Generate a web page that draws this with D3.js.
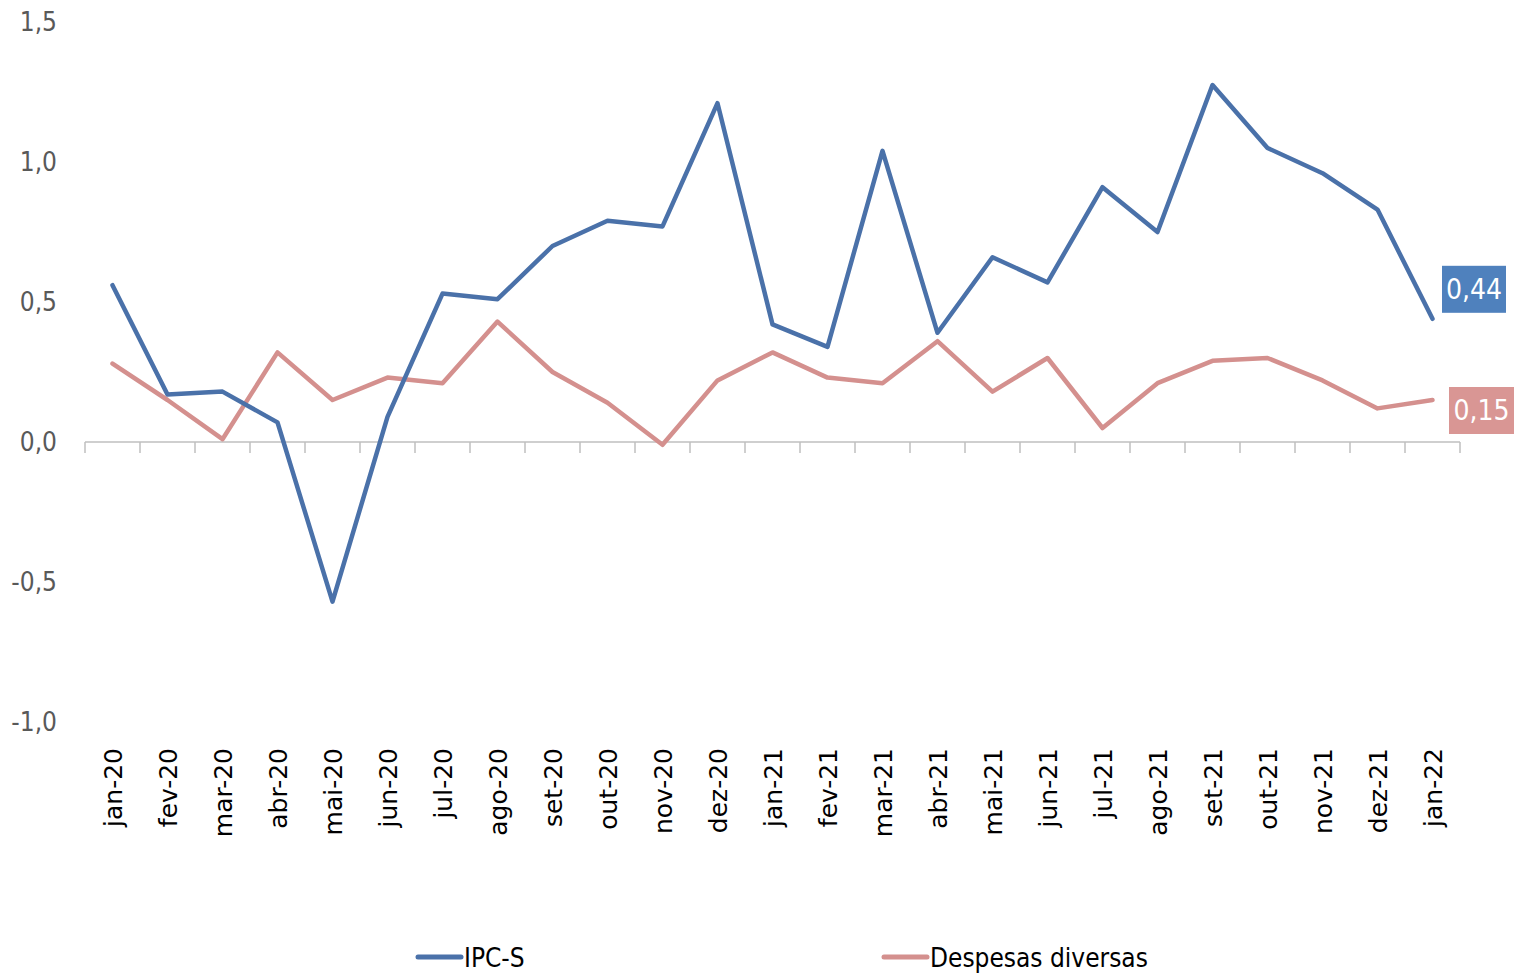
<!DOCTYPE html>
<html lang="pt">
<head>
    <meta charset="utf-8"/>
    <title>IPC-S x Despesas diversas</title>
    <script src="https://d3js.org/d3.v7.min.js"></script>
    <style>
        body { margin: 0; background: #fff; }
        .ylab, .legend text { font-family: "Liberation Sans Narrow", "DejaVu Sans Condensed", sans-serif; fill: #595959; }
        .xlab { font-family: "DejaVu Sans", sans-serif; fill: #000; }
    </style>
</head>
<body>
<svg width="1516" height="976"></svg>
<script>
    // dados
    const meses = ["jan-20", "fev-20", "mar-20", "abr-20", "mai-20", "jun-20", "jul-20", "ago-20", "set-20",
        "out-20", "nov-20", "dez-20", "jan-21", "fev-21", "mar-21", "abr-21", "mai-21", "jun-21", "jul-21",
        "ago-21", "set-21", "out-21", "nov-21", "dez-21", "jan-22"];
    const ipcs = [0.56, 0.17, 0.18, 0.07, -0.57, 0.09, 0.53, 0.51, 0.70, 0.79, 0.77, 1.21, 0.42, 0.34,
        1.04, 0.39, 0.66, 0.57, 0.91, 0.75, 1.275, 1.05, 0.96, 0.83, 0.44];
    const despesas = [0.28, 0.15, 0.01, 0.32, 0.15, 0.23, 0.21, 0.43, 0.25, 0.14, -0.01, 0.22, 0.32, 0.23,
        0.21, 0.36, 0.18, 0.30, 0.05, 0.21, 0.29, 0.30, 0.22, 0.12, 0.15];
    const yTicks = [-1.0, -0.5, 0.0, 0.5, 1.0, 1.5];

    const azul = "#4a71a9", rosa = "#d4908e";
    const azulBox = "#4f81bd", rosaBox = "#d99694";
    const fonteEstreita = "'Liberation Sans Narrow', 'DejaVu Sans Condensed', sans-serif";

    const svg = d3.select("svg");
    const fmt = v => d3.format(".1f")(v).replace(".", ",").replace("−", "-");

    const x = d3.scaleBand().domain(meses).range([85, 1460]);
    const y = d3.scaleLinear().domain([-1, 1.5]).range([722, 22]);
    const cx = d => x(d) + x.bandwidth() / 2;

    // rótulos do eixo y (sem linha)
    svg.append("g").selectAll("text").data(yTicks).join("text")
        .attr("class", "ylab")
        .attr("x", 57).attr("y", d => y(d)).attr("dy", "0.35em")
        .attr("text-anchor", "end").attr("font-size", 26)
        .text(fmt);

    // eixo x no zero, com marcas entre as categorias
    const xAxis = svg.append("g").attr("transform", `translate(0,${y(0)})`);
    xAxis.append("line").attr("x1", 85).attr("x2", 1460).attr("stroke", "#bfbfbf").attr("stroke-width", 1.5);
    xAxis.selectAll("line.tk").data(d3.range(meses.length + 1)).join("line")
        .attr("class", "tk")
        .attr("x1", i => 85 + i * x.bandwidth()).attr("x2", i => 85 + i * x.bandwidth())
        .attr("y1", 0).attr("y2", 11).attr("stroke", "#bfbfbf").attr("stroke-width", 1.5);

    svg.append("g").selectAll("text").data(meses).join("text")
        .attr("class", "xlab")
        .attr("transform", d => `translate(${cx(d) + 9},748) rotate(-90)`)
        .attr("text-anchor", "end").attr("font-size", 25)
        .text(d => d);

    const line = d3.line().x((d, i) => cx(meses[i])).y(d => y(d));

    svg.append("path").attr("d", line(despesas)).attr("fill", "none")
        .attr("stroke", rosa).attr("stroke-width", 4.5).attr("stroke-linejoin", "round").attr("stroke-linecap", "round");
    svg.append("path").attr("d", line(ipcs)).attr("fill", "none")
        .attr("stroke", azul).attr("stroke-width", 4.5).attr("stroke-linejoin", "round").attr("stroke-linecap", "round");

    // caixas com o último valor
    function caixa(v, cor, x0, w, dy) {
        const cy = y(v) + dy;
        const g = svg.append("g");
        g.append("rect").attr("x", x0).attr("y", cy - 23).attr("width", w).attr("height", 47).attr("fill", cor);
        g.append("text").attr("x", x0 + w / 2).attr("y", cy).attr("dy", "0.35em")
            .attr("text-anchor", "middle").attr("font-size", 28).attr("fill", "#fff")
            .attr("font-family", fonteEstreita)
            .text(d3.format(".2f")(v).replace(".", ","));
    }
    caixa(ipcs[ipcs.length - 1], azulBox, 1442, 64, -30);
    caixa(despesas[despesas.length - 1], rosaBox, 1449, 65, 10);

    // legenda
    const legenda = [{nome: "IPC-S", cor: azul, x: 418}, {nome: "Despesas diversas", cor: rosa, x: 884}];
    const lg = svg.append("g").attr("class", "legend");
    legenda.forEach(d => {
        lg.append("line").attr("x1", d.x).attr("x2", d.x + 43).attr("y1", 957).attr("y2", 957)
            .attr("stroke", d.cor).attr("stroke-width", 5).attr("stroke-linecap", "round");
        lg.append("text").attr("x", d.x + 46).attr("y", 958).attr("dy", "0.35em")
            .attr("font-size", 26).style("fill", "#000").text(d.nome);
    });
</script>
</body>
</html>
